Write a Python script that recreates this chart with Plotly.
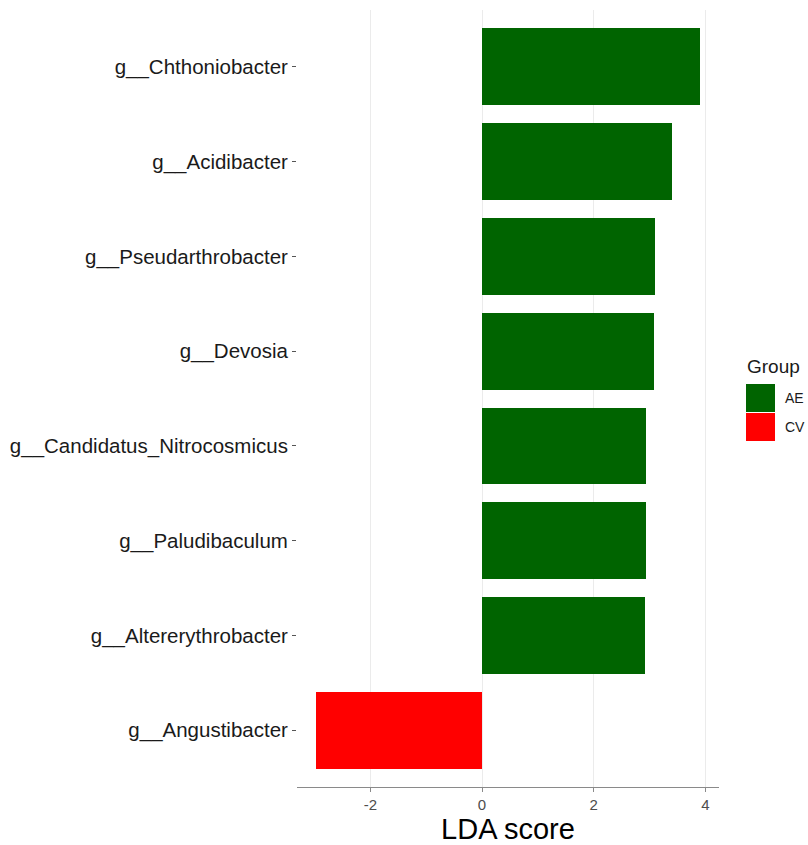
import plotly.graph_objects as go

# LDA effect sizes per genus (top to bottom)
genera = [
    "g__Chthoniobacter",
    "g__Acidibacter",
    "g__Pseudarthrobacter",
    "g__Devosia",
    "g__Candidatus_Nitrocosmicus",
    "g__Paludibaculum",
    "g__Altererythrobacter",
    "g__Angustibacter",
]
lda_scores = [3.90, 3.40, 3.09, 3.08, 2.93, 2.93, 2.91, -2.97]
groups = ["AE", "AE", "AE", "AE", "AE", "AE", "AE", "CV"]

group_colors = {"AE": "#006400", "CV": "#FF0000"}
x_ticks = [-2, 0, 2, 4]

fig = go.Figure()
for g in ["AE", "CV"]:
    ys = [n for n, grp in zip(genera, groups) if grp == g]
    xs = [v for v, grp in zip(lda_scores, groups) if grp == g]
    fig.add_trace(go.Bar(
        x=xs, y=ys, orientation="h", name=g,
        marker=dict(color=group_colors[g], line=dict(width=0)),
        width=0.81, showlegend=False,
    ))

span = max(lda_scores) - min(lda_scores)
x_range = [min(lda_scores) - 0.05 * span, max(lda_scores) + 0.05 * span]

fig.update_layout(
    width=808, height=845,
    margin=dict(l=297, r=89, t=10, b=58),
    paper_bgcolor="white", plot_bgcolor="white",
    font=dict(family="Liberation Sans, Arial, sans-serif"),
    bargap=0,
    xaxis=dict(
        range=x_range, tickvals=x_ticks, ticktext=[str(t) for t in x_ticks],
        showgrid=True, gridcolor="#ebebeb", gridwidth=1,
        zeroline=False, showline=True, linecolor="#8a8a8a", linewidth=1,
        ticks="outside", ticklen=4, tickcolor="#8a8a8a",
        tickfont=dict(size=15, color="#4d4d4d"),
        title=dict(text="LDA score", font=dict(size=29, color="black"), standoff=4),
        automargin=False,
    ),
    yaxis=dict(
        type="category", categoryorder="array",
        categoryarray=list(reversed(genera)),
        range=[-0.6, len(genera) - 0.4],
        showgrid=False, zeroline=False, showline=False,
        ticks="outside", ticklen=4, tickcolor="#555555",
        tickfont=dict(size=20.5, color="#1a1a1a"),
        automargin=False,
    ),
)

# Group legend built as keys + labels on the right
fig.add_annotation(xref="paper", yref="paper", x=(745 - 297) / 422, y=(845 - 58 - 366) / 777,
                   text="Group", showarrow=False, xanchor="left", yanchor="middle",
                   font=dict(size=19, color="#1a1a1a"))
key_top = 384
for i, g in enumerate(["AE", "CV"]):
    top = key_top + i * 29
    y0 = (845 - 58 - (top + 28)) / 777
    y1 = (845 - 58 - top) / 777
    fig.add_shape(type="rect", xref="paper", yref="paper",
                  x0=(746 - 297) / 422, x1=(775 - 297) / 422, y0=y0, y1=y1,
                  fillcolor=group_colors[g], line=dict(width=0))
    fig.add_annotation(xref="paper", yref="paper", x=(783 - 297) / 422, y=(y0 + y1) / 2,
                       text=g, showarrow=False, xanchor="left", yanchor="middle",
                       font=dict(size=14, color="#1a1a1a"))

fig.write_html("out.html")
